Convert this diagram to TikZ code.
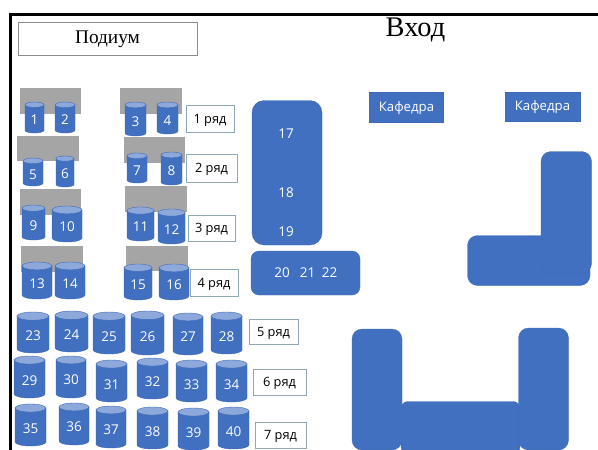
\documentclass[tikz,border=0pt]{standalone}
\usepackage{fontspec}
\setmainfont{Open Sans}
\newfontfamily\serifface{Liberation Serif}
\definecolor{seatblue}{HTML}{4170C0}
\definecolor{seattop}{HTML}{8DA9DB}
\definecolor{seatedge}{HTML}{3E69B4}
\definecolor{deskgray}{HTML}{A5A5A5}
\definecolor{rowedge}{HTML}{8FA8B4}
\tikzset{
  seatbody/.style={fill=seatblue,draw=seatedge,line width=0.4pt},
  seatcap/.style={fill=seattop,draw=seatedge,line width=0.4pt},
  seatnum/.style={text=white,font=\fontsize{13.5}{15}\selectfont,inner sep=0pt,text height=10pt,text depth=0pt},
  desk/.style={fill=deskgray,draw=none},
  rowbox/.style={fill=white,draw=rowedge,line width=0.6pt},
  rowtext/.style={text=black,font=\fontsize{12.8}{15}\selectfont,inner sep=0pt,yshift=-1.5pt},
  bluebox/.style={fill=seatblue,draw=seatedge,line width=0.3pt},
  bluetext/.style={text=white,font=\fontsize{13.2}{15}\selectfont,inner sep=0pt,yshift=-1pt},
}
% name, x0, y0, x1, y1
\newcommand{\seatdraw}[5]{%
  \pgfmathsetmacro{\cxx}{(#2+#4)/2}
  \pgfmathsetmacro{\rxx}{(#4-#2)/2}
  \pgfmathsetmacro{\ryy}{(#4-#2)*0.11+0.6}
  \pgfmathsetmacro{\ytop}{#3+\ryy}
  \pgfmathsetmacro{\ybot}{#5-\ryy}
  \pgfmathsetmacro{\ytxt}{(\ytop+#5)/2+1}
  \path[seatbody] (#2,\ytop) -- (#2,\ybot) arc[start angle=180,end angle=360,x radius=\rxx pt,y radius=\ryy pt] -- (#4,\ytop) -- cycle;
  \path[seatcap] (\cxx,\ytop) ellipse[x radius=\rxx pt,y radius=\ryy pt];
  \node[seatnum] (s#1) at (\cxx,\ytxt) {#1};
}
\newcommand{\rowlabel}[6]{%
  \path[rowbox] (#2,#3) rectangle (#4,#5);
  \node[rowtext] (r#1) at ({(#2+#4)/2},{(#3+#5)/2}) {#6};
}
\begin{document}
\begin{tikzpicture}[x=1pt,y=-1pt]
\useasboundingbox (0,0) rectangle (598,450);
\fill[white] (0,0) rectangle (598,450);
% hall frame
\draw[black,line width=2.2pt] (10.5,450) -- (10.5,14.5) -- (598,14.5);
% podium
\path[fill=white,draw=gray!90,line width=0.7pt] (18.5,22) rectangle (197,55);
\node[inner sep=0pt,font=\serifface\fontsize{19.3}{22}\selectfont] (podium) at (107.5,39.5) {Подиум};
\node[inner sep=0pt,font=\serifface\fontsize{28.4}{32}\selectfont] (entry) at (415.5,29.5) {Вход};
% desks
\path[desk] (20,88) rectangle (81,114);
\path[desk] (17,136) rectangle (79,161);
\path[desk] (20,189) rectangle (81,215);
\path[desk] (21,246) rectangle (83,272);
\path[desk] (120,88) rectangle (182,114);
\path[desk] (124,137) rectangle (185,163);
\path[desk] (125,186) rectangle (187,212);
\path[desk] (126,246) rectangle (188,271);
% seats
\seatdraw{1}{25}{102}{44}{133}
\seatdraw{2}{55}{102}{75}{133}
\seatdraw{3}{125}{102}{146}{136}
\seatdraw{4}{157}{102}{178}{134}
\seatdraw{5}{23}{158}{43}{186}
\seatdraw{6}{56}{156}{74}{187}
\seatdraw{7}{127}{153}{147}{183}
\seatdraw{8}{161}{152}{182}{185}
\seatdraw{9}{22}{205}{45}{240}
\seatdraw{10}{52}{206}{82}{242}
\seatdraw{11}{127}{207}{154}{241}
\seatdraw{12}{158}{209}{185}{244}
\seatdraw{13}{22}{262}{52}{299}
\seatdraw{14}{55}{262}{85}{299}
\seatdraw{15}{124}{264}{152}{300}
\seatdraw{16}{159}{264}{189}{300}
\seatdraw{23}{17}{312}{49}{353}
\seatdraw{24}{55}{311}{88}{352}
\seatdraw{25}{93}{312}{125}{354}
\seatdraw{26}{131}{311}{164}{355}
\seatdraw{27}{173}{313}{203}{355}
\seatdraw{28}{211}{312}{242}{354}
\seatdraw{29}{14}{356}{45}{398}
\seatdraw{30}{56}{356}{86}{398}
\seatdraw{31}{96}{360}{127}{402}
\seatdraw{32}{137}{358}{168}{399}
\seatdraw{33}{176}{360}{207}{402}
\seatdraw{34}{216}{360}{247}{402}
\seatdraw{35}{15}{404}{46}{446}
\seatdraw{36}{59}{403}{89}{445}
\seatdraw{37}{96}{406}{126}{448}
\seatdraw{38}{137}{407}{168}{449}
\seatdraw{39}{178}{408}{209}{450}
\seatdraw{40}{218}{407}{249}{449}
% row labels
\rowlabel{1}{186}{105.5}{234}{132}{1 ряд}
\rowlabel{2}{186}{154}{237}{182}{2 ряд}
\rowlabel{3}{188}{215}{235}{241}{3 ряд}
\rowlabel{4}{190}{269}{238}{296}{4 ряд}
\rowlabel{5}{249}{319}{298}{344}{5 ряд}
\rowlabel{6}{253}{369}{306}{395}{6 ряд}
\rowlabel{7}{255}{422}{306}{448}{7 ряд}
% tables with numbers
\path[bluebox,rounded corners=12pt] (252,100.5) rectangle (322,245);
\node[seatnum] (s17) at (286,133.5) {17};
\node[seatnum] (s18) at (286,192.5) {18};
\node[seatnum] (s19) at (286,231) {19};
\path[bluebox,rounded corners=8pt] (251,251) rectangle (360,295);
\node[seatnum] (s20) at (282,272.5) {20};
\node[seatnum] (s21) at (307.5,272.5) {21};
\node[seatnum] (s22) at (329.5,272.5) {22};
% departments
\path[bluebox] (369.5,92.5) rectangle (443.5,122.5);
\node[bluetext] (kaf1) at (406.5,107.5) {Кафедра};
\path[bluebox] (505.5,92) rectangle (580,121.5);
\node[bluetext] (kaf2) at (542.5,106.5) {Кафедра};
% right-hand furniture
\path[bluebox,rounded corners=10pt] (467.5,235.5) rectangle (590,285.5);
\path[bluebox,rounded corners=10pt] (541,151.5) rectangle (591.5,273.5);
\path[bluebox,rounded corners=7pt] (401,401.5) rectangle (520,454);
\path[bluebox,rounded corners=10pt] (352,329) rectangle (402,450);
\path[bluebox,rounded corners=10pt] (518.5,328) rectangle (568.5,450);
\end{tikzpicture}
\end{document}
